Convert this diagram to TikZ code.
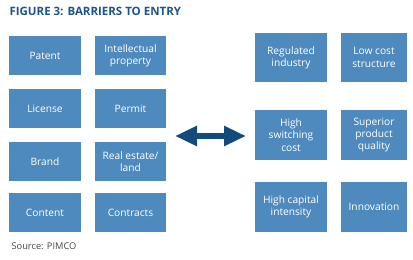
\documentclass[tikz,border=0pt]{standalone}
\usepackage{fontspec}
\setmainfont{Open Sans}
\usepackage{tikz}
\usetikzlibrary{arrows.meta,positioning}
\definecolor{boxblue}{RGB}{79,138,190}
\definecolor{titleblue}{RGB}{28,84,140}
\definecolor{arrowblue}{RGB}{20,75,125}
\definecolor{srcgray}{RGB}{70,70,70}

\begin{document}
\begin{tikzpicture}[x=1pt, y=-1pt,
    barrier/.style={fill=boxblue, text=white, align=center, inner sep=0pt,
      minimum width=72pt, minimum height=39pt,
      font=\fontsize{10.2}{12.3}\selectfont},
    barrierR/.style={barrier, minimum height=49.5pt}]
    \useasboundingbox (0,0) rectangle (413,260);
    % title and source
    \node[anchor=west, text=titleblue, font=\fontsize{11.5}{13}\selectfont\bfseries] (title) at (6,11) {FIGURE 3: BARRIERS TO ENTRY};
    \node[anchor=west, text=srcgray, font=\fontsize{9.3}{11}\selectfont] (source) at (8,246) {Source: PIMCO};
    % left group
    \node[barrier] (patent) at (45,55.5) {Patent};
    \node[barrier, minimum width=71pt] (ip) at (130.5,55.5) {Intellectual\\property};
    \node[barrier] (license) at (45,108.5) {License};
    \node[barrier, minimum width=71pt] (permit) at (130.5,108.5) {Permit};
    \node[barrier] (brand) at (45,161.5) {Brand};
    \node[barrier, minimum width=71pt] (realestate) at (130.5,161.5) {Real estate/\\land};
    \node[barrier] (content) at (45,212.5) {Content};
    \node[barrier, minimum width=71pt] (contracts) at (130.5,212.5) {Contracts};
    % right group
    \node[barrierR, minimum height=49pt] (regulated) at (291,57.5) {Regulated\\industry};
    \node[barrierR, minimum height=49pt, minimum width=66pt] (lowcost) at (374,57.5) {Low cost\\structure};
    \node[barrierR] (switching) at (291,135) {High\\switching\\cost};
    \node[barrierR, minimum width=66pt] (superior) at (374,135) {Superior\\product\\quality};
    \node[barrierR] (capital) at (291,207) {High capital\\intensity};
    \node[barrierR, minimum width=66pt] (innovation) at (374,207) {Innovation};
    % double arrow
    \coordinate (arrL) at (175,136);
    \coordinate (arrR) at (246,136);
    \draw[arrowblue, line width=6pt, {Triangle[length=22pt,width=19pt]}-{Triangle[length=22pt,width=19pt]}] (arrL) -- (arrR);
  \end{tikzpicture}
\end{document}
